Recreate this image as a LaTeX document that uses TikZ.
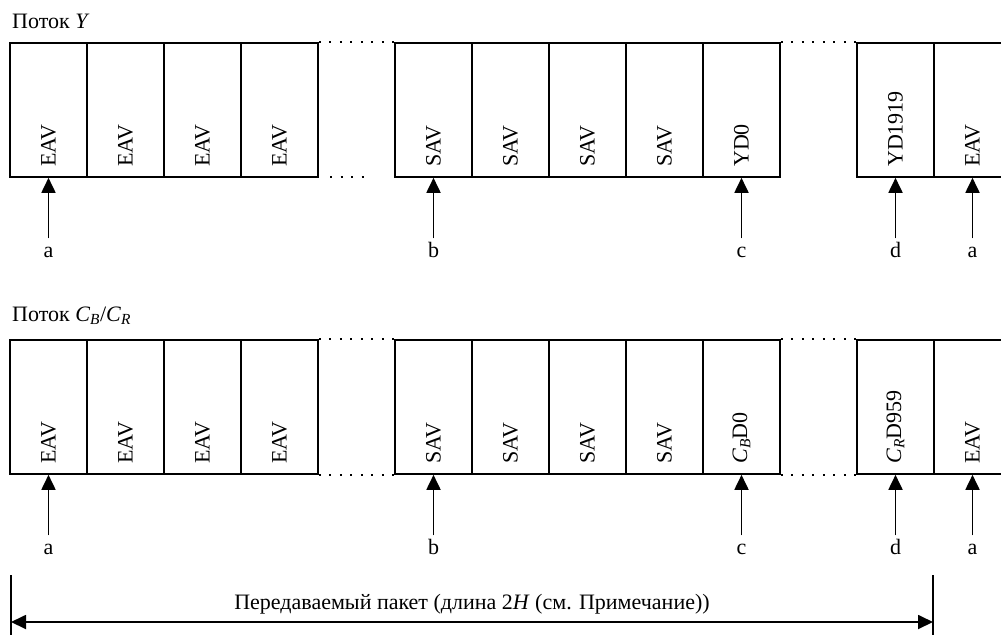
\documentclass[tikz,border=0pt]{standalone}
\usepackage{fontspec}
\setmainfont{Liberation Serif}
\usetikzlibrary{arrows.meta}

\newcommand{\chB}{\textit{C}\textsubscript{\textit{B}}}
\newcommand{\chR}{\textit{C}\textsubscript{\textit{R}}}

\begin{document}
\begin{tikzpicture}[x=1pt, y=-1pt,
	every node/.style={font=\fontsize{22}{26}\selectfont},
	cell/.style={draw, line width=1.6pt, minimum width=77pt, minimum height=134pt, inner sep=0pt},
	tag/.style={rotate=90, anchor=west, inner sep=0pt},
	letter/.style={anchor=base, text height=1.6ex, text depth=0pt, inner sep=2pt},
	pointer/.style={line width=1.8pt, -{Triangle[length=15pt,width=14pt]}, shorten <=9pt},
	gap/.style={line width=1.8pt, dash pattern=on 2pt off 8.5pt}]
	\useasboundingbox (0,0) rectangle (1001,635);

	% stream Y
	\node [anchor=base west, inner sep=0pt] (ytitle) at (12,28) {Поток \textit{Y}};
	\foreach \n/\x/\t in {1/10/EAV, 2/87/EAV, 3/164/EAV, 4/241/EAV,
		5/395/SAV, 6/472/SAV, 7/549/SAV, 8/626/SAV, 9/703/YD0,
		10/857/YD1919, 11/934/EAV} {
		\node [cell] (y\n) at (\x+38.5,110) {};
		\node [tag] (yt\n) at (\x+38.5,167) {\t};
	}
	\draw [gap] (y4.north east) -- (y5.north west);
	\draw [gap] (330,177) -- (370,177);
	\draw [gap] (y9.north east) -- (y10.north west);
	\node [letter] (ya1) at (48.5,257) {a};
	\node [letter] (yb) at (433.5,257) {b};
	\node [letter] (yc) at (741.5,257) {c};
	\node [letter] (yd) at (895.5,257) {d};
	\node [letter] (ya2) at (972.5,257) {a};
	\draw [pointer] (ya1) -- (y1.south);
	\draw [pointer] (yb) -- (y5.south);
	\draw [pointer] (yc) -- (y9.south);
	\draw [pointer] (yd) -- (y10.south);
	\draw [pointer] (ya2) -- (y11.south);

	% stream CB/CR
	\node [anchor=base west, inner sep=0pt] (ctitle) at (12,321) {Поток \chB/\chR};
	\foreach \n/\x/\t in {1/10/EAV, 2/87/EAV, 3/164/EAV, 4/241/EAV,
		5/395/SAV, 6/472/SAV, 7/549/SAV, 8/626/SAV, 9/703/{\chB D0},
		10/857/{\chR D959}, 11/934/EAV} {
		\node [cell] (c\n) at (\x+38.5,407) {};
		\node [tag] (ct\n) at (\x+38.5,464) {\t};
	}
	\draw [gap] (c4.north east) -- (c5.north west);
	\draw [gap] (c4.south east) -- (c5.south west);
	\draw [gap] (c9.north east) -- (c10.north west);
	\draw [gap] (c9.south east) -- (c10.south west);
	\node [letter] (ca1) at (48.5,554) {a};
	\node [letter] (cb) at (433.5,554) {b};
	\node [letter] (cc) at (741.5,554) {c};
	\node [letter] (cd) at (895.5,554) {d};
	\node [letter] (ca2) at (972.5,554) {a};
	\draw [pointer] (ca1) -- (c1.south);
	\draw [pointer] (cb) -- (c5.south);
	\draw [pointer] (cc) -- (c9.south);
	\draw [pointer] (cd) -- (c10.south);
	\draw [pointer] (ca2) -- (c11.south);

	% packet length
	\coordinate (pl) at (11,622);
	\coordinate (pr) at (933,622);
	\draw [line width=1.6pt] (11,575) -- (11,635);
	\draw [line width=1.6pt] (933,575) -- (933,635);
	\draw [line width=1.8pt, {Triangle[length=15pt,width=14pt]}-{Triangle[length=15pt,width=14pt]}] (pl) -- node [midway, above=4pt] {Передаваемый пакет (длина 2\textit{H} (см. Примечание))} (pr);
\end{tikzpicture}
\end{document}
